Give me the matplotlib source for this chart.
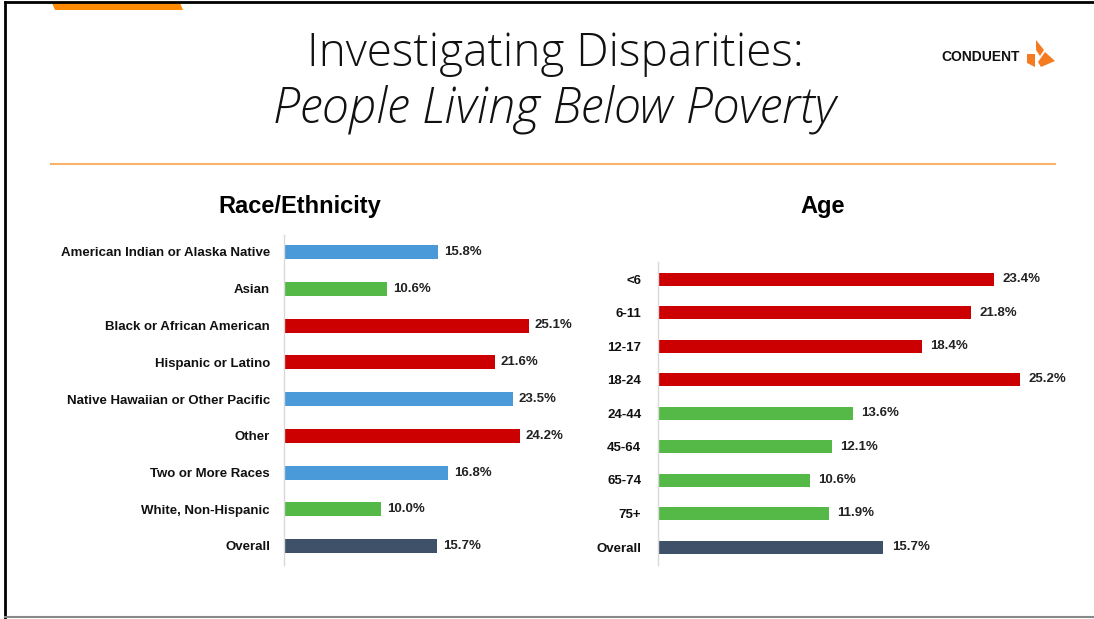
import matplotlib.pyplot as plt
from matplotlib.patches import Polygon

# data
race_labels = ["American Indian or Alaska Native", "Asian", "Black or African American",
               "Hispanic or Latino", "Native Hawaiian or Other Pacific", "Other",
               "Two or More Races", "White, Non-Hispanic", "Overall"]
race_values = [15.8, 10.6, 25.1, 21.6, 23.5, 24.2, 16.8, 10.0, 15.7]
race_groups = ["blue", "green", "red", "red", "blue", "red", "blue", "green", "overall"]

age_labels = ["<6", "6-11", "12-17", "18-24", "24-44", "45-64", "65-74", "75+", "Overall"]
age_values = [23.4, 21.8, 18.4, 25.2, 13.6, 12.1, 10.6, 11.9, 15.7]
age_groups = ["red", "red", "red", "red", "green", "green", "green", "green", "overall"]

palette = {"blue": "#4A9ADA", "green": "#55B947", "red": "#CC0000", "overall": "#3F5169"}

W, H = 1094, 619
fig = plt.figure(figsize=(W / 100, H / 100), dpi=100)
fig.patch.set_facecolor("white")

label_font = ["Liberation Sans", "DejaVu Sans"]


def px_axes(x0, y0, x1, y1):
    return fig.add_axes([x0 / W, 1 - y1 / H, (x1 - x0) / W, (y1 - y0) / H])


def draw_bars(ax, labels, values, groups, xmax, ytop, ybot, bh, pad):
    n = len(labels)
    ax.barh(range(n), values, height=bh, color=[palette[g] for g in groups])
    for i, v in enumerate(values):
        ax.text(v + xmax * 0.02, i, f"{v:.1f}%", va="center", ha="left",
                fontsize=9.5, fontweight="bold", family=label_font, color="#222222")
    ax.set_xlim(0, xmax)
    ax.set_ylim(n - 1 + ybot, -ytop)
    ax.set_yticks(range(n))
    ax.set_yticklabels(labels, fontsize=9.5, fontweight="bold", family=label_font, color="#111111")
    ax.tick_params(axis="y", length=0, pad=pad)
    ax.set_xticks([])
    for s in ["top", "right", "bottom"]:
        ax.spines[s].set_visible(False)
    ax.spines["left"].set_color("#D9D9D9")
    ax.spines["left"].set_linewidth(1)
    ax.patch.set_alpha(0)


# left chart: 9.75 px per percent, rows 36.75 px apart
ax1 = px_axes(284, 235, 284 + 9.75 * 30, 565)
draw_bars(ax1, race_labels, race_values, race_groups, 30, 17 / 36.75, 19 / 36.75, 14 / 36.75, 10)

# right chart: 14.36 px per percent, rows 33.5 px apart
ax2 = px_axes(658, 262, 658 + 14.36 * 29, 565)
draw_bars(ax2, age_labels, age_values, age_groups, 29, 17 / 33.5, 18 / 33.5, 13 / 33.5, 12)

# titles
fig.text(300 / W, 1 - 206 / H, "Race/Ethnicity", ha="center", va="center",
         fontsize=17, fontweight="bold", family="Liberation Sans")
fig.text(823 / W, 1 - 206 / H, "Age", ha="center", va="center",
         fontsize=17, fontweight="bold", family="Liberation Sans")

fig.text(555 / W, 1 - 54 / H, "Investigating Disparities:", ha="center", va="center",
         fontsize=33, fontweight="light", family="Open Sans", color="#111111")
fig.text(555 / W, 1 - 109 / H, "People Living Below Poverty", ha="center", va="center",
         fontsize=35, fontweight="light", style="italic", family="Open Sans", color="#111111")

# decorations
deco = fig.add_axes([0, 0, 1, 1])
deco.set_xlim(0, W)
deco.set_ylim(H, 0)
deco.axis("off")
deco.plot([51, 1055], [164, 164], color="#F8B36A", lw=1.5)
deco.plot([5, 5], [2, H], color="black", lw=2)
deco.plot([5, W], [2, 2], color="black", lw=2)
deco.plot([5, W], [617, 617], color="#888888", lw=1.5)
deco.add_patch(Polygon([[52, 3], [180, 3], [183, 10], [55, 10]], closed=True,
                       color="#FF8A00", lw=0))

# logo
deco.text(1020, 57, "CONDUENT", ha="right", va="center", fontsize=10,
          fontweight="bold", family="Liberation Sans", color="#111111")
deco.add_patch(Polygon([[1036, 40], [1044, 50], [1040, 56], [1036, 50]], color="#F47B20", lw=0))
deco.add_patch(Polygon([[1027, 54], [1035, 54], [1035, 67], [1027, 63]], color="#F47B20", lw=0))
deco.add_patch(Polygon([[1045, 52], [1055, 61], [1041, 67], [1038, 62]], color="#F47B20", lw=0))

fig.savefig("out.png", dpi=100)
